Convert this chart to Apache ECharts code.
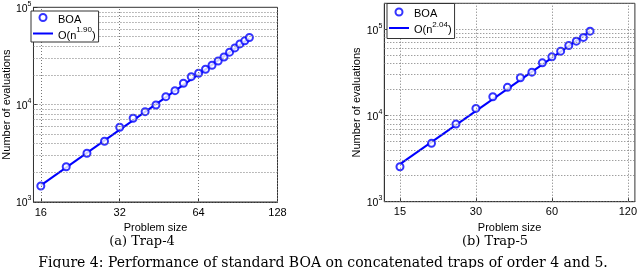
<!DOCTYPE html>
<html><head><meta charset="utf-8">
<script src="https://cdn.jsdelivr.net/npm/echarts@6/dist/echarts.min.js"></script>
<style>html,body{margin:0;padding:0;background:#fff}#c{width:640px;height:268px}</style>
</head><body><div id="c"></div>
<script>
// ---- data ----
const problemSizeA = [16,20,24,28,32,36,40,44,48,52,56,60,64,68,72,76,80,84,88,92,96,100];
const evaluationsA = [1460,2305,3165,4210,5860,7250,8470,9930,12080,13930,16600,19400,21000,23100,25400,28100,30900,34600,38300,42100,45200,48900];
const fitA = [[16,1480],[100,48000]];
const fitNameA = 'O(n^1.90)';

const problemSizeB = [15,20,25,30,35,40,45,50,55,60,65,70,75,80,85];
const evaluationsB = [2540,4750,7950,12080,16480,21200,27400,31800,40800,47900,55700,64800,72800,80400,95000];
const fitB = [[15,2730],[85,95000]];
const fitNameB = 'O(n^2.04)';

const xTicksA = [16,32,64,128];
const xTicksB = [15,30,60,120];
const yTicks = [1000,10000,100000];
const captionA = '(a) Trap-4';
const captionB = '(b) Trap-5';
const figCaption = 'Figure 4: Performance of standard BOA on concatenated traps of order 4 and 5.';

// ---- helpers ----
const SANS = "'Liberation Sans', Arial, sans-serif";
const SERIF = "'DejaVu Serif', serif";
const BLUE = '#0000ff';
function yGridValues(maxV){
  const out = [];
  for (let d = 1000; d < maxV; d *= 10) for (let k = 1; k <= 9; k++) { const v = k*d; if (v <= maxV) out.push(v); }
  return out;
}
function legendFmt(name){
  if (name === 'BOA') return '{a|BOA}';
  const m = name.match(/^O\(n\^([\d.]+)\)$/);
  return '{a|O(n}{s|' + m[1] + '}{a|)}';
}
const axisColor = '#333';
function makeX(gi, min, max, ticks){
  return {
    type:'log', logBase:2, gridIndex:gi, min:min, max:max,
    axisLine:{show:true, lineStyle:{color:axisColor, width:1}},
    axisTick:{show:true, inside:true, length:4, customValues:ticks, lineStyle:{color:axisColor}},
    axisLabel:{customValues:ticks, fontSize:11, color:'#000', margin:5, fontFamily:SANS},
    splitLine:{show:false},
    name:'Problem size', nameLocation:'middle', nameGap:14.5,
    nameTextStyle:{fontSize:11, color:'#000', fontFamily:SANS}
  };
}
function makeY(gi, min, max){
  return {
    type:'log', logBase:10, gridIndex:gi, min:min, max:max,
    axisLine:{show:true, lineStyle:{color:axisColor, width:1}},
    axisTick:{show:true, inside:true, length:4, customValues:yTicks, lineStyle:{color:axisColor}},
    axisLabel:{customValues:yTicks, margin:2, fontFamily:SANS, color:'#000',
      formatter:function(v){ return '{b|10}{s|' + Math.round(Math.log10(v)) + '}'; },
      rich:{ b:{fontSize:10.5, fontFamily:SANS, color:'#000', lineHeight:14, verticalAlign:'bottom'},
             s:{fontSize:7, fontFamily:SANS, color:'#000', lineHeight:14, verticalAlign:'top'} } },
    splitLine:{show:false},
    name:'Number of evaluations', nameLocation:'middle', nameGap:20,
    nameTextStyle:{fontSize:11, color:'#000', fontFamily:SANS}
  };
}
function gridSeries(gi, xTicks, maxY){
  const data = yGridValues(maxY).map(v => ({yAxis:v})).concat(xTicks.map(v => ({xAxis:v})));
  return { type:'line', xAxisIndex:gi, yAxisIndex:gi, data:[], z:0, silent:true,
    markLine:{ silent:true, symbol:'none', animation:false, label:{show:false},
      lineStyle:{color:'#777', type:[1,2], width:1}, data:data } };
}
function pts(xs, ys){ return xs.map((x,i) => [x, ys[i]]); }
const LINE_ICON = 'path://M0,0H20V2H0Z';
function legend(left, top, fitName, padding){
  return { orient:'vertical', left:left, top:top, backgroundColor:'#fff', z:10,
    data:[{name:'BOA', icon:'emptyCircle'}, {name:fitName, icon:LINE_ICON}],
    symbolKeepAspect:true,
    borderColor:axisColor, borderWidth:1, padding:padding, itemGap:1, itemWidth:20, itemHeight:7,
    selectedMode:false, formatter:legendFmt,
    textStyle:{ rich:{ a:{fontSize:11, fontFamily:SANS, color:'#000', lineHeight:15, verticalAlign:'bottom'},
                       s:{fontSize:8, fontFamily:SANS, color:'#000', lineHeight:15, verticalAlign:'top'} } } };
}
function scatterS(gi, data){
  return { name:'BOA', type:'scatter', xAxisIndex:gi, yAxisIndex:gi, data:data, z:4,
    symbol:'emptyCircle', symbolSize:7, itemStyle:{color:BLUE, borderColor:BLUE, borderWidth:1.6} };
}
function fitS(gi, name, data){
  return { name:name, type:'line', xAxisIndex:gi, yAxisIndex:gi, data:data, z:3,
    symbol:'none', showSymbol:false, lineStyle:{color:BLUE, width:2}, itemStyle:{color:BLUE} };
}

const chart = echarts.init(document.getElementById('c'), null, {renderer:'canvas'});
chart.setOption({
  animation:false,
  backgroundColor:'#fff',
  grid:[
    {left:30, right:362.5, top:7.3, bottom:66, show:true, borderColor:axisColor, borderWidth:1, backgroundColor:'transparent'},
    {left:384.3, right:2, top:3.3, bottom:66.3, show:true, borderColor:axisColor, borderWidth:1, backgroundColor:'transparent'}
  ],
  xAxis:[ makeX(0, 15, 128, xTicksA), makeX(1, 13, 128, xTicksB) ],
  yAxis:[ makeY(0, 1000, 100000), makeY(1, 1000, 200000) ],
  legend:[ legend(31, 11, fitNameA, [2,3,1,2]), legend(387, 3.5, fitNameB, [4,3,3,2]) ],
  series:[
    gridSeries(0, xTicksA, 100000),
    gridSeries(1, xTicksB, 200000),
    fitS(0, fitNameA, fitA),
    scatterS(0, pts(problemSizeA, evaluationsA)),
    fitS(1, fitNameB, fitB),
    scatterS(1, pts(problemSizeB, evaluationsB))
  ],
  graphic:[
    {type:'text', x:142, y:242, style:{text:captionA, font:'13px '+SERIF, fill:'#000', align:'center', verticalAlign:'middle'}},
    {type:'text', x:495, y:242, style:{text:captionB, font:'13px '+SERIF, fill:'#000', align:'center', verticalAlign:'middle'}},
    {type:'text', x:323, y:263.5, style:{text:figCaption, font:'14px '+SERIF, fill:'#000', align:'center', verticalAlign:'middle'}}
  ]
});
</script></body></html>
